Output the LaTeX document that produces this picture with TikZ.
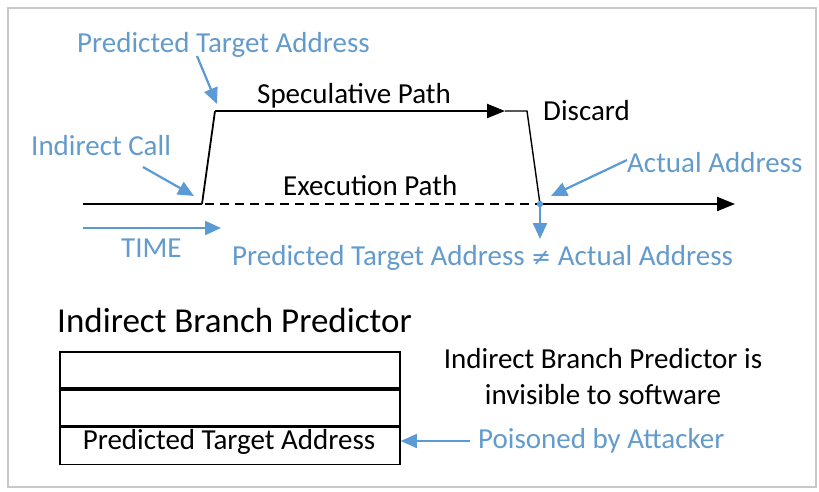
\documentclass[tikz,border=0pt]{standalone}
\usepackage{fontspec}
\setmainfont{Carlito}
\usetikzlibrary{arrows.meta}
\definecolor{lblue}{RGB}{91,155,213}
\definecolor{tblue}{RGB}{100,155,205}
\definecolor{frame}{RGB}{200,200,200}
\tikzset{
  lbl/.style={inner sep=0pt, font=\fontsize{29}{34}\selectfont, text=black},
  blbl/.style={lbl, text=tblue},
  bigl/.style={inner sep=0pt, font=\fontsize{35}{40}\selectfont, text=black},
  barrow/.style={draw=lblue, line width=2.2pt, -{Triangle[length=16pt,width=14pt]}},
  karrow/.style={line width=2.2pt, -{Triangle[length=18pt,width=14pt]}},
  kline/.style={line width=1.8pt},
  cell/.style={draw, line width=1.8pt, minimum width=340pt, minimum height=36pt, inner sep=0pt, font=\fontsize{29}{34}\selectfont}
}
\begin{document}
\begin{tikzpicture}[x=1pt,y=-1pt]
\useasboundingbox (0,0) rectangle (819,491);
\fill[white] (0,0) rectangle (819,491);
\draw[frame, line width=1.2pt] (8,8) rectangle (816,487);

% timeline coordinates
\coordinate (s0) at (83,204);
\coordinate (s1) at (202,204);
\coordinate (s2) at (215,111);
\coordinate (s3) at (505,111);
\coordinate (s4) at (527,111);
\coordinate (j) at (540,204);
\coordinate (e) at (735,204);

\draw[kline] (s0) -- (s1);
\draw[kline] (s1) -- (s2);
\draw[karrow] (s2) -- (s3);
\draw[line width=1.4pt] (s3) -- (s4) -- (j);
\draw[kline, dashed, dash pattern=on 9pt off 6pt] (205,204) coordinate (d0) -- (j);
\draw[karrow] (j) -- (e);

% labels
\node[blbl, anchor=base west] (pta) at (77,52) {Predicted Target Address};
\node[blbl, anchor=base west] (ic) at (31,155) {Indirect Call};
\node[blbl, anchor=base west] (time) at (121,257) {TIME};
\node[lbl, anchor=base west] (sp) at (257,103) {Speculative Path};
\node[lbl, anchor=base west] (dc) at (543,120) {Discard};
\node[lbl, anchor=base west] (ep) at (283,195) {Execution Path};
\node[blbl, anchor=base west] (aa) at (627,172) {Actual Address};
\node[blbl, anchor=base west] (ne) at (232,265) {Predicted Target Address {\fontspec{DejaVu Sans}\fontsize{24}{30}\selectfont ≠} Actual Address};

% blue arrows
\coordinate (a1s) at (197,56);
\coordinate (a1e) at (217,104);
\draw[barrow] (a1s) -- (a1e);
\coordinate (a2s) at (143,167);
\coordinate (a2e) at (194,196);
\draw[barrow] (a2s) -- (a2e);
\coordinate (t0) at (83,228);
\coordinate (t1) at (221,228);
\draw[barrow] (t0) -- (t1);
\coordinate (a3s) at (627,160);
\coordinate (a3e) at (551,196);
\draw[barrow] (a3s) -- (a3e);
\coordinate (dn) at (540,239);
\draw[barrow] (j) -- (dn);
\fill[lblue] (j) circle (3.2pt);

% predictor table
\node[bigl, anchor=base west] (ibp) at (57,332) {Indirect Branch Predictor};
\node[cell, anchor=north west] (c1) at (59,351) {};
\node[cell, anchor=north] (c2) at (c1.south) {};
\node[cell, anchor=north, minimum height=37pt] (c3) at (c2.south) {};
\node[lbl, anchor=base] (cpt) at (229,449) {Predicted Target Address};

\node[lbl, anchor=base] (inv1) at (603,368) {Indirect Branch Predictor is};
\node[lbl, anchor=base] (inv2) at (603,404) {invisible to software};
\node[blbl, anchor=base west] (pa) at (478,448) {Poisoned by Attacker};
\coordinate (pas) at (470,441);
\draw[barrow, line width=1.6pt] (pas) -- (c3.east |- pas);
\end{tikzpicture}
\end{document}
